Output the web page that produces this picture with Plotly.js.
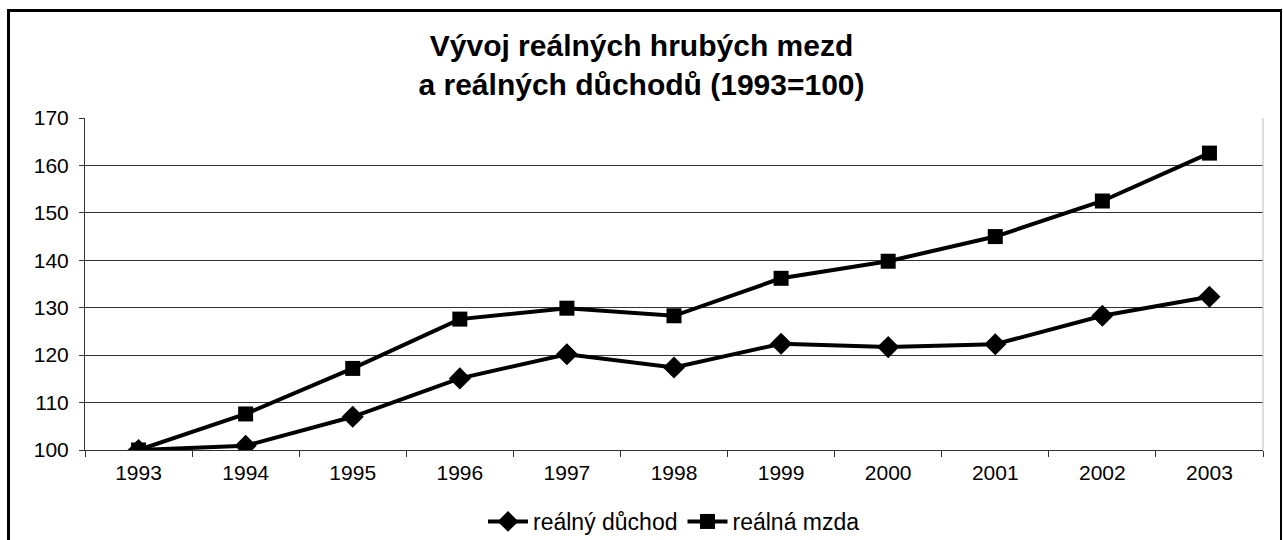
<!DOCTYPE html>
<html><head><meta charset="utf-8">
<script src="https://cdn.plot.ly/plotly-3.0.1.min.js"></script>
<style>
html,body{margin:0;padding:0;overflow:hidden;background:#fff}
#chart{width:1283px;height:540px;position:absolute;left:0;top:0}
#frame{position:absolute;left:7px;top:9px;width:1275px;height:600px;border-left:3px solid #000;border-top:3px solid #000;border-right:2px solid #000;box-sizing:border-box;pointer-events:none;z-index:10}
</style></head>
<body><div id="chart"></div><div id="frame"></div>
<script>
const years = ["1993","1994","1995","1996","1997","1998","1999","2000","2001","2002","2003"];
const duchod = [100, 100.9, 107.0, 115.1, 120.2, 117.4, 122.4, 121.7, 122.3, 128.3, 132.3];
const mzda = [100, 107.6, 117.2, 127.6, 129.9, 128.3, 136.2, 139.8, 145.0, 152.5, 162.6];
const yTicks = [100, 110, 120, 130, 140, 150, 160, 170];
const titleText = "Vývoj reálných hrubých mezd<br>a reálných důchodů (1993=100)";
const names = ["reálný důchod", "reálná mzda"];

const F = "Liberation Sans, Arial, sans-serif";
const traces = [
  {x: years, y: duchod, name: names[0], type: "scatter", mode: "lines+markers",
   line: {color: "#000", width: 4}, marker: {symbol: "diamond", size: 17, color: "#000"}},
  {x: years, y: mzda, name: names[1], type: "scatter", mode: "lines+markers",
   line: {color: "#000", width: 4}, marker: {symbol: "square", size: 15, color: "#000"}}
];
const layout = {
  width: 1283, height: 540,
  margin: {l: 85, r: 20, t: 118, b: 90},
  paper_bgcolor: "#fff", plot_bgcolor: "#fff",
  showlegend: true,
  title: {text: titleText, font: {family: F, size: 30, color: "#000", weight: "bold"},
          x: 0.5, xanchor: "center", yref: "container", y: 1 - 33/540, yanchor: "top",
          pad: {t: 0, b: 0}},
  xaxis: {type: "category", range: [-0.5, 10.5], tickson: "boundaries", ticks: "outside",
          ticklen: 6, tickcolor: "#333", showline: true, linecolor: "#333", linewidth: 1,
          showgrid: false, tickfont: {family: F, size: 21, color: "#000"}, ticklabelstandoff: 4},
  yaxis: {range: [100, 170], tickvals: yTicks, ticks: "outside", ticklen: 5, tickcolor: "#333",
          showline: true, linecolor: "#333", linewidth: 1, showgrid: true, gridcolor: "#333",
          gridwidth: 1, zeroline: false, tickfont: {family: F, size: 21, color: "#000"}, ticklabelstandoff: 6},
  legend: {orientation: "h", x: 0.5, xanchor: "center", yref: "container", y: 1 - 500/540, yanchor: "top",
           font: {family: F, size: 23, color: "#000"}, bgcolor: "rgba(0,0,0,0)", itemwidth: 40,
           tracegroupgap: 0},
  shapes: [
    {type: "line", xref: "paper", yref: "paper", x0: 1, x1: 1, y0: 0, y1: 1, line: {color: "#bbb", width: 1}}
  ]
};
Plotly.newPlot("chart", traces, layout, {displayModeBar: false, staticPlot: true}).then(function(gd){
  var t = gd.querySelector('.gtitle');
  if (t) { t.setAttribute('transform', 'translate(0,23)'); }
});
</script>
</body></html>
